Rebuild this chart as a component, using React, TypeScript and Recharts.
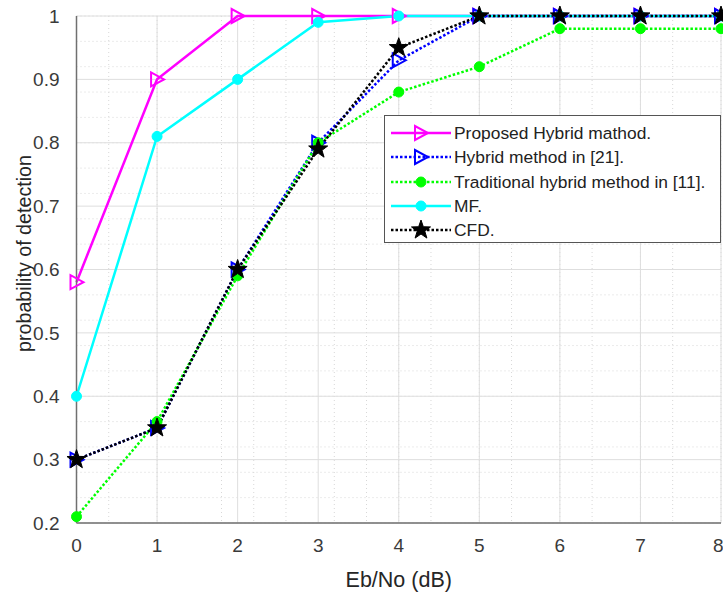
import React from 'react';
import { LineChart, Line, XAxis, YAxis, CartesianGrid } from 'recharts';

const xValues = [0, 1, 2, 3, 4, 5, 6, 7, 8];
const proposed = [0.58, 0.9, 1, 1, 1, 1, 1, 1, 1];
const hybrid21 = [0.3, 0.35, 0.6, 0.8, 0.93, 1, 1, 1, 1];
const traditional = [0.21, 0.36, 0.59, 0.8, 0.88, 0.92, 0.98, 0.98, 0.98];
const mf = [0.4, 0.81, 0.9, 0.99, 1, 1, 1, 1, 1];
const cfd = [0.3, 0.35, 0.6, 0.79, 0.95, 1, 1, 1, 1];

const xTicks = [0, 1, 2, 3, 4, 5, 6, 7, 8];
const yTicks = [0.2, 0.3, 0.4, 0.5, 0.6, 0.7, 0.8, 0.9, 1];

const seriesNames = [
  'Proposed Hybrid mathod.',
  'Hybrid method in [21].',
  'Traditional hybrid method in [11].',
  'MF.',
  'CFD.',
];

const data = xValues.map((x, i) => ({
  x,
  proposed: proposed[i],
  hybrid21: hybrid21[i],
  traditional: traditional[i],
  mf: mf[i],
  cfd: cfd[i],
}));

const minorX: number[] = [];
for (let i = 0; i <= 40; i++) minorX.push(i * 0.2);
const minorY: number[] = [];
for (let i = 0; i <= 40; i++) minorY.push(0.2 + i * 0.02);

const FONT = '"Liberation Sans", Arial, sans-serif';
const TXT = '#3a3a3a';

const Tri = ({ cx, cy, color }: any) => (
  <polygon
    points={`${cx - 6},${cy - 7} ${cx - 6},${cy + 7} ${cx + 7},${cy}`}
    fill="none"
    stroke={color}
    strokeWidth={2}
  />
);

const starPts = (cx: number, cy: number, R: number, r: number) => {
  const pts: string[] = [];
  for (let i = 0; i < 10; i++) {
    const a = -Math.PI / 2 + (i * Math.PI) / 5;
    const rad = i % 2 === 0 ? R : r;
    pts.push(`${cx + rad * Math.cos(a)},${cy + rad * Math.sin(a)}`);
  }
  return pts.join(' ');
};

const Star = ({ cx, cy }: any) => (
  <polygon points={starPts(cx, cy, 10, 4)} fill="#000" stroke="#000" strokeWidth={1} />
);

const Dot = ({ cx, cy, color }: any) => <circle cx={cx} cy={cy} r={5} fill={color} stroke={color} strokeWidth={1} />;

const mk = (kind: string, color: string) => (props: any) => {
  const { cx, cy, index } = props;
  if (cx == null || cy == null) return <g key={index} />;
  if (kind === 'tri') return <Tri key={index} cx={cx} cy={cy} color={color} />;
  if (kind === 'star') return <Star key={index} cx={cx} cy={cy} />;
  return <Dot key={index} cx={cx} cy={cy} color={color} />;
};

const legendItems = [
  { name: seriesNames[0], color: '#ff00ff', dash: undefined, kind: 'tri' },
  { name: seriesNames[1], color: '#0000ff', dash: '2.5 2', kind: 'tri' },
  { name: seriesNames[2], color: '#00ff00', dash: '2.5 2', kind: 'dot' },
  { name: seriesNames[3], color: '#00ffff', dash: undefined, kind: 'dot' },
  { name: seriesNames[4], color: '#000000', dash: '2.5 2', kind: 'star' },
];

const LegendBox = () => (
  <div
    style={{
      position: 'absolute',
      left: 384,
      top: 115,
      width: 337,
      height: 128,
      border: '1px solid #555',
      background: '#fff',
      boxSizing: 'border-box',
      paddingTop: 5,
      fontFamily: FONT,
    }}
  >
    {legendItems.map((it, i) => (
      <div key={i} style={{ display: 'flex', alignItems: 'center', height: 24.3 }}>
        <svg width={69} height={22} style={{ flex: 'none' }}>
          <line x1={6} y1={11} x2={66} y2={11} stroke={it.color} strokeWidth={2.5} strokeDasharray={it.dash} />
          {it.kind === 'tri' && <Tri cx={36} cy={11} color={it.color} />}
          {it.kind === 'dot' && <Dot cx={36} cy={11} color={it.color} />}
          {it.kind === 'star' && <Star cx={36} cy={11} />}
        </svg>
        <span style={{ fontSize: 17.4, color: '#222', whiteSpace: 'nowrap', lineHeight: '20px' }}>{it.name}</span>
      </div>
    ))}
  </div>
);

const YLabel = (props: any) => {
  const vb = props.viewBox || {};
  const cx = (vb.x || 0) + 24;
  const cy = (vb.y || 0) + (vb.height || 0) / 2 - 16;
  return (
    <text
      x={cx}
      y={cy}
      transform={`rotate(-90, ${cx}, ${cy})`}
      textAnchor="middle"
      dominantBaseline="central"
      fill="#262626"
      fontSize={19.7}
      fontFamily={FONT}
    >
      probability of detection
    </text>
  );
};

export default function App() {
  return (
    <div style={{ position: 'absolute', left: 0, top: 0, width: 723, height: 592, background: '#fff' }}>
      <LineChart
        width={723}
        height={592}
        data={data}
        margin={{ top: 16, right: 2, bottom: 0, left: 0 }}
        style={{ fontFamily: FONT }}
      >
        <CartesianGrid
          horizontalValues={minorY}
          verticalValues={minorX}
          stroke="#d8d8d8"
          strokeDasharray="1 3"
          strokeWidth={1}
        />
        <CartesianGrid
          horizontalValues={yTicks}
          verticalValues={xTicks}
          stroke="#dedede"
          strokeWidth={1}
        />
        <XAxis
          dataKey="x"
          type="number"
          domain={[0, 8]}
          ticks={xTicks}
          height={69}
          stroke="#707070"
          strokeWidth={1.5}
          tickLine={false}
          tickMargin={10}
          tick={{ fill: TXT, fontSize: 19 }}
          label={{ value: 'Eb/No (dB)', position: 'insideBottom', offset: 5, fill: '#262626', fontSize: 21.5 }}
        />
        <XAxis
          xAxisId="top"
          orientation="top"
          dataKey="x"
          type="number"
          domain={[0, 8]}
          height={0}
          stroke="#707070"
          strokeWidth={1.5}
          tick={false}
          tickLine={false}
        />
        <YAxis
          type="number"
          domain={[0.2, 1]}
          ticks={yTicks}
          width={76.5}
          stroke="#707070"
          strokeWidth={1.5}
          tickLine={false}
          tickMargin={11}
          tickFormatter={(v: number) => (v === 1 ? '1' : v.toFixed(1))}
          tick={{ fill: TXT, fontSize: 19 }}
          label={<YLabel />}
        />
        <YAxis
          yAxisId="right"
          orientation="right"
          type="number"
          domain={[0.2, 1]}
          width={0}
          stroke="#707070"
          strokeWidth={1.5}
          tick={false}
          tickLine={false}
        />
        <Line
          dataKey="proposed"
          name={seriesNames[0]}
          stroke="#ff00ff"
          strokeWidth={2.5}
          dot={mk('tri', '#ff00ff')}
          isAnimationActive={false}
        />
        <Line
          dataKey="hybrid21"
          name={seriesNames[1]}
          stroke="#0000ff"
          strokeWidth={2.5}
          strokeDasharray="2.5 2"
          dot={mk('tri', '#0000ff')}
          isAnimationActive={false}
        />
        <Line
          dataKey="traditional"
          name={seriesNames[2]}
          stroke="#00ff00"
          strokeWidth={2.5}
          strokeDasharray="2.5 2"
          dot={mk('dot', '#00ff00')}
          isAnimationActive={false}
        />
        <Line
          dataKey="mf"
          name={seriesNames[3]}
          stroke="#00ffff"
          strokeWidth={2.5}
          dot={mk('dot', '#00ffff')}
          isAnimationActive={false}
        />
        <Line
          dataKey="cfd"
          name={seriesNames[4]}
          stroke="#000000"
          strokeWidth={2.5}
          strokeDasharray="2.5 2"
          dot={mk('star', '#000')}
          isAnimationActive={false}
        />
      </LineChart>
      <LegendBox />
    </div>
  );
}
